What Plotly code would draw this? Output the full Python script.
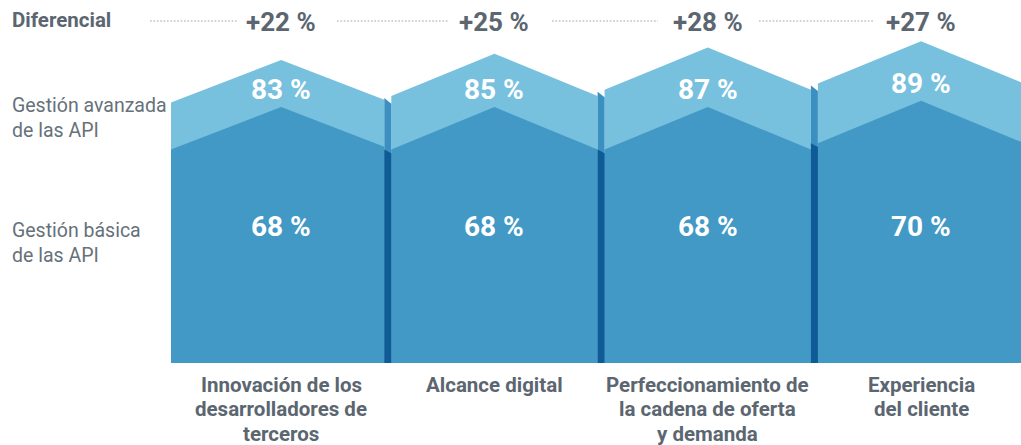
import plotly.graph_objects as go

# ---------------- data ----------------
categories = [
    "Innovación de los\ndesarrolladores de\nterceros",
    "Alcance digital",
    "Perfeccionamiento de\nla cadena de oferta\ny demanda",
    "Experiencia\ndel cliente",
]
basic = [68, 68, 68, 70]          # Gestión básica de las API (%)
advanced = [83, 85, 87, 89]       # Gestión avanzada de las API (%)
differential = [22, 25, 28, 27]   # Diferencial (%)
series_labels = ["Gestión avanzada\nde las API", "Gestión básica\nde las API"]
diff_title = "Diferencial"

# ---------------- geometry / style ----------------
W, H = 1021, 445
PX0, PW = 171.0, 213.3          # left edge of first panel, panel width (px)
BASE_PX, PX_PER_PCT = 363.0, 3.14
YMAX = BASE_PX / PX_PER_PCT


def xu(px):
    return (px - PX0) / PW - 0.5


def yu(py):
    return (BASE_PX - py) / PX_PER_PCT


def yp(py):  # pixel -> paper
    return (BASE_PX - py) / BASE_PX


XMIN, XMAX = xu(0), xu(W)
STRIP = 7.0 / PW
ROOF = 13.5

LIGHT = "#77C1DE"
DARK = "#4299C6"
STRIP_LIGHT = "#3A91C1"
STRIP_DARK = "#0F5B95"
TEXT = "#5B6670"
TEXT_LIGHT = "#66717A"
DOT = "#C9C1BF"
FONT = "Roboto"

fig = go.Figure()


def poly(xs, ys, color):
    fig.add_trace(go.Scatter(
        x=xs + [xs[0]], y=ys + [ys[0]], mode="lines", fill="toself",
        fillcolor=color, line=dict(width=0, color=color),
        hoverinfo="skip", showlegend=False))


centers = []
for i, (a, b) in enumerate(zip(advanced, basic)):
    L, R = i - 0.5, i + 0.5
    fl = L + (STRIP if i > 0 else 0.0)
    xc = i + 0.0165
    centers.append(xc)
    k = (R - xc) / (xc - fl)
    for v, col in ((a, LIGHT), (b, DARK)):
        poly([fl, fl, xc, R, R], [0, v, v + ROOF, v + ROOF - ROOF * k, 0], col)
    if i > 0:
        poly([L, L, L + STRIP, L + STRIP], [0, a - 0.6, a - 2.4, 0], STRIP_LIGHT)
        poly([L, L, L + STRIP, L + STRIP], [0, b, b - 1.2, 0], STRIP_DARK)

# dotted leader lines in the "Diferencial" row
dot_segments_px = [(150, 237), (337, 448), (552, 658), (759, 873)]
for x0, x1 in dot_segments_px:
    fig.add_trace(go.Scatter(
        x=[xu(x0), xu(x1)], y=[yu(21), yu(21)], mode="lines",
        line=dict(color=DOT, width=1.7, dash="1.7px,1.7px"),
        hoverinfo="skip", showlegend=False))

ann = []
for i, xc in enumerate(centers):
    ann.append(dict(x=xc, y=yp(22), xref="x", yref="paper",
                    text=f"<b>+{differential[i]} %</b>", showarrow=False,
                    font=dict(family=FONT, size=26, color=TEXT),
                    xanchor="center", yanchor="middle"))
    ann.append(dict(x=xc, y=basic[i] + 19, xref="x", yref="y",
                    text=f"<b>{advanced[i]} %</b>", showarrow=False,
                    font=dict(family=FONT, size=28, color="white"),
                    xanchor="center", yanchor="middle"))
    ann.append(dict(x=xc, y=yp(226), xref="x", yref="paper",
                    text=f"<b>{basic[i]} %</b>", showarrow=False,
                    font=dict(family=FONT, size=28, color="white"),
                    xanchor="center", yanchor="middle"))
    for j, line in enumerate(categories[i].split("\n")):
        ann.append(dict(x=xc, y=yp(385 + 24.5 * j), xref="x", yref="paper",
                        text=f"<b>{line}</b>", showarrow=False,
                        font=dict(family=FONT, size=20.5, color=TEXT),
                        xanchor="center", yanchor="middle"))

ann.append(dict(x=10 / W, y=yp(20), xref="paper", yref="paper",
                text=f"<b>{diff_title}</b>", showarrow=False,
                font=dict(family=FONT, size=20.5, color=TEXT),
                xanchor="left", yanchor="middle"))
for lbl, cy in zip(series_labels, (118, 243)):
    ann.append(dict(x=10 / W, y=yp(cy), xref="paper", yref="paper",
                    text=lbl.replace("\n", "<br>"), showarrow=False, align="left",
                    font=dict(family=FONT, size=19.5, color=TEXT_LIGHT),
                    xanchor="left", yanchor="middle"))

fig.update_layout(
    width=W, height=H,
    margin=dict(l=0, r=0, t=0, b=H - BASE_PX, pad=0),
    paper_bgcolor="white", plot_bgcolor="white",
    showlegend=False,
    xaxis=dict(range=[XMIN, XMAX], visible=False, fixedrange=True),
    yaxis=dict(range=[0, YMAX], visible=False, fixedrange=True),
    annotations=ann,
)

fig.write_html(
    "out.html",
    config={"displayModeBar": False},
    post_script="document.body.style.margin='0';document.body.style.overflow='hidden';",
)
